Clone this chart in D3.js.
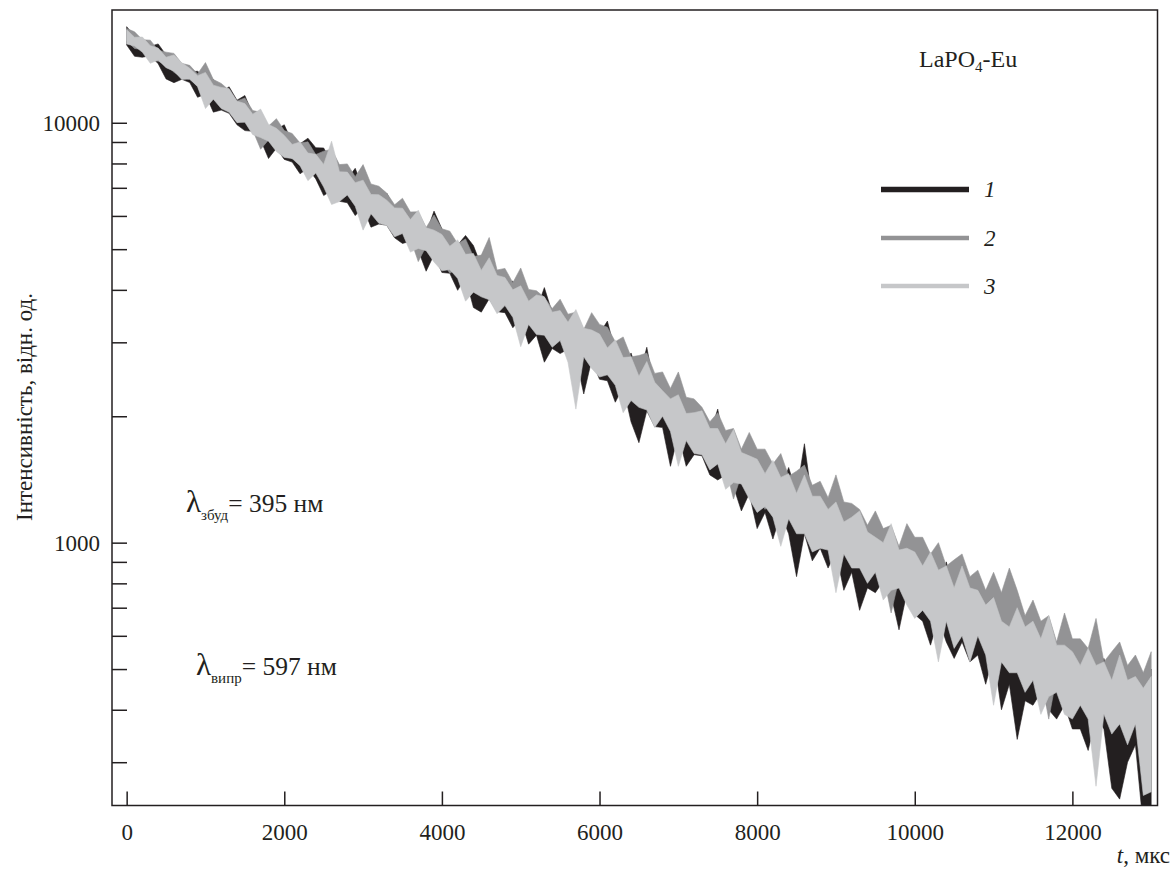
<!DOCTYPE html>
<html>
<head>
<meta charset="utf-8">
<script src="https://cdn.jsdelivr.net/npm/d3@7"></script>
<style>
  html, body { margin: 0; background: #fff; }
  svg { display: block; }
  svg text { font-family: "Liberation Serif", "Times New Roman", "DejaVu Serif", serif !important; }
</style>
</head>
<body>
<svg id="chart" width="1173" height="870"></svg>
<script>
// Luminescence decay of LaPO4-Eu, three measurements.
// Each series is stored as the max/min envelope of the signal in 100 µs bins.
const times = [0,100,200,300,400,500,600,700,800,900,1000,1100,1200,1300,1400,1500,1600,1700,1800,1900,
  2000,2100,2200,2300,2400,2500,2600,2700,2800,2900,3000,3100,3200,3300,3400,3500,3600,3700,3800,3900,
  4000,4100,4200,4300,4400,4500,4600,4700,4800,4900,5000,5100,5200,5300,5400,5500,5600,5700,5800,5900,
  6000,6100,6200,6300,6400,6500,6600,6700,6800,6900,7000,7100,7200,7300,7400,7500,7600,7700,7800,7900,
  8000,8100,8200,8300,8400,8500,8600,8700,8800,8900,9000,9100,9200,9300,9400,9500,9600,9700,9800,9900,
  10000,10100,10200,10300,10400,10500,10600,10700,10800,10900,11000,11100,11200,11300,11400,11500,11600,11700,11800,11900,
  12000,12100,12200,12300,12400,12500,12600,12700,12800,12900,13000];

const s1Upper = [16940,16100,15890,15210,15410,14510,14220,13800,13250,13260,
  12840,12680,11830,12180,11320,11610,10480,10470,9760,9640,
  9890,8980,8910,9190,8720,8710,8070,7790,7350,7790,
  6960,6960,6430,6800,6250,6150,5800,5880,5450,6160,
  5590,5100,5120,5390,5100,4560,4490,4320,4050,4200,
  3880,3910,3580,4050,3530,3500,3310,3380,3110,3140,
  3150,3370,2850,2610,2830,2480,2920,2320,2160,2250,
  2040,2060,1850,2010,1810,2080,1650,1690,1530,1520,
  1600,1440,1460,1340,1510,1310,1720,1250,1160,1240,
  1120,1160,1040,1160,1020,1170,950,990,880,920,
  950,840,860,780,900,760,900,720,660,720,
  650,670,590,680,590,590,550,580,500,520,
  550,490,500,470,530,460,460,450,420,470,500];
const s1Lower = [15320,14400,14320,14460,13820,12720,12460,12690,12470,11500,
  11700,10600,10720,10530,9890,9580,9540,9100,8220,8700,
  8180,8060,7560,7790,7350,6710,6900,6500,6450,6010,
  6290,5640,5740,5700,5320,5160,5220,4970,4430,4850,
  4400,4380,3990,4280,3630,3540,3810,3550,3530,3250,
  3420,2970,3120,2690,2900,2820,2890,2760,2260,2720,
  2450,2430,2160,2350,1940,1730,2060,1890,1880,1520,
  1810,1520,1620,1610,1450,1410,1450,1360,1190,1310,
  1080,1180,1020,1170,1050,830,1050,905,970,870,
  950,770,850,690,780,760,810,750,620,760,
  674,650,570,660,580,530,580,520,540,460,
  540,400,460,340,420,410,440,400,380,410,
  360,360,320,385,360,260,245,300,330,210,220];

const s2Upper = [16780,16470,15770,15730,14890,14730,14630,13850,13700,13070,
  13910,12680,12410,11950,11270,11460,10690,10600,9820,10230,
  9580,9430,8950,9010,8400,8560,8650,7950,7980,7440,
  7950,7150,7060,6800,6380,6610,6130,6140,5630,6030,
  5590,5520,5150,5290,4800,4840,5330,4460,4500,4160,
  4510,4010,3980,3840,3610,3800,3500,3540,3220,3530,
  3310,3260,3010,3090,2770,2790,2830,2530,2550,2330,
  2550,2220,2200,2100,1940,2040,1850,1870,1670,1830,
  1670,1670,1540,1630,1440,1480,1530,1370,1400,1280,
  1450,1250,1240,1200,1100,1190,1080,1100,980,1110,
  1030,1030,940,1000,880,910,940,830,860,770,
  850,760,870,770,670,730,650,670,580,680,
  590,590,560,660,520,550,580,510,540,490,550];
const s2Lower = [15660,15030,14950,14090,14020,13750,13190,12840,12680,12260,
  11090,11510,10890,10650,10010,10150,9600,8650,9100,8650,
  8630,8200,8240,7610,7650,7410,6970,6780,6790,6500,
  5880,6290,5920,5840,5450,5640,5300,4670,5080,4820,
  4700,4380,4500,4000,4120,4070,3790,3680,3710,3530,
  3120,3430,3220,3200,2980,3130,2950,2530,2850,2700,
  2720,2510,2580,2240,2330,2280,2110,2040,2060,1940,
  1680,1860,1730,1710,1560,1650,1510,1270,1450,1350,
  1310,1200,1280,1090,1160,1170,1070,1040,1070,1010,
  860,1000,920,930,840,920,840,680,820,760,
  770,690,760,630,680,680,610,600,620,590,
  470,590,530,530,470,530,480,380,480,440,
  440,410,440,370,400,420,380,370,400,370,310];

const s3Upper = [16650,15990,16000,15260,15060,14320,14510,13900,13480,12950,
  13180,12290,12140,12060,11260,11110,10480,10780,9910,9700,
  9330,8880,9000,8470,8410,7960,9040,7640,7630,7200,
  7300,6750,6740,6540,6270,6260,5880,6190,5620,5550,
  5420,5080,5260,4860,4880,4450,4770,4330,4280,4000,
  4090,3760,3890,3850,3540,3570,3350,3590,3240,3210,
  3140,2910,3040,2760,2770,2490,2700,2410,2300,2200,
  2250,2030,2040,2060,1870,1870,1720,1860,1640,1610,
  1580,1460,1570,1430,1460,1310,1450,1290,1290,1200,
  1250,1120,1150,1190,1060,1030,1000,1110,960,970,
  950,880,950,860,880,780,880,780,770,710,
  740,650,630,700,630,650,590,670,570,570,
  550,510,560,510,520,470,540,470,480,450,480];
const s3Lower = [15410,15230,14720,13860,14100,13530,13270,12680,12710,12190,
  10810,11380,10810,10590,10010,10030,9370,9220,9040,8540,
  8270,8220,7900,7280,7590,7030,6390,6490,6730,6330,
  5550,6070,5760,5690,5350,5450,4920,5020,4960,4660,
  4440,4470,4260,3760,3950,3850,3790,3510,3670,3440,
  2930,3310,3130,3120,2920,3030,2690,2080,2770,2600,
  2480,2510,2370,2040,2180,2100,2070,1880,2000,1840,
  1520,1750,1630,1620,1490,1540,1340,1390,1380,1270,
  1180,1220,1150,980,1140,1050,1050,950,970,960,
  760,940,870,870,800,850,730,770,780,710,
  660,690,650,520,650,560,600,520,600,540,
  410,520,490,490,440,470,390,430,440,390,
  380,410,380,263,390,350,370,330,370,250,255];

const seriesNames = ["1", "2", "3"];
const seriesColors = ["#231f20", "#939395", "#c6c7c9"];
const xTickValues = [0, 2000, 4000, 6000, 8000, 10000, 12000];
const yTickValues = [300, 400, 500, 600, 700, 800, 900, 1000,
  2000, 3000, 4000, 5000, 6000, 7000, 8000, 9000, 10000];
const yLabelled = [1000, 10000];

const series = [
  { name: seriesNames[0], color: seriesColors[0], upper: s1Upper, lower: s1Lower },
  { name: seriesNames[1], color: seriesColors[1], upper: s2Upper, lower: s2Lower },
  { name: seriesNames[2], color: seriesColors[2], upper: s3Upper, lower: s3Lower }
];

const ink = "#231f20";
const serif = "Liberation Serif, Times New Roman, serif";
const frame = { left: 112, right: 1157.5, top: 10, bottom: 805.5 };

const svg = d3.select("#chart");

const x = d3.scaleLinear().domain([-186, 13080]).range([frame.left, frame.right]);
const y = d3.scaleLog().domain([236.6, 18560]).range([frame.bottom, frame.top]);

svg.append("defs").append("clipPath").attr("id", "plot-clip")
  .append("rect")
  .attr("x", frame.left).attr("y", frame.top)
  .attr("width", frame.right - frame.left).attr("height", frame.bottom - frame.top);

// Signal envelopes: measurement 1 at the back, 3 in front
const plotG = svg.append("g").attr("clip-path", "url(#plot-clip)");
series.forEach(s => {
  const area = d3.area()
    .x((d, i) => x(times[i]))
    .y0((d, i) => y(s.lower[i]))
    .y1((d, i) => y(s.upper[i]))
    .curve(d3.curveLinear);
  plotG.append("path")
    .datum(times)
    .attr("d", area)
    .attr("fill", s.color)
    .attr("stroke", s.color)
    .attr("stroke-width", 0.6)
    .attr("stroke-linejoin", "miter");
});

// Axes with inward ticks
const xAxis = d3.axisBottom(x)
  .tickValues(xTickValues)
  .tickSize(-14)
  .tickPadding(18)
  .tickFormat(d3.format("d"));
const gx = svg.append("g").attr("transform", `translate(0,${frame.bottom})`).call(xAxis);

const yAxis = d3.axisLeft(y)
  .tickValues(yTickValues)
  .tickSize(-15)
  .tickPadding(12)
  .tickFormat(d => yLabelled.includes(d) ? d3.format("d")(d) : "");
const gy = svg.append("g").attr("transform", `translate(${frame.left},0)`).call(yAxis);

[gx, gy].forEach(g => {
  g.attr("font-family", serif).attr("font-size", 23);
  g.select(".domain").remove();
  g.selectAll(".tick line").attr("stroke", ink).attr("stroke-width", 1.5);
  g.selectAll(".tick text").attr("fill", ink);
});

// Frame
svg.append("rect")
  .attr("x", frame.left).attr("y", frame.top)
  .attr("width", frame.right - frame.left).attr("height", frame.bottom - frame.top)
  .attr("fill", "none").attr("stroke", ink).attr("stroke-width", 1.5);

// Axis titles
svg.append("text")
  .attr("transform", "translate(32,407) rotate(-90)")
  .attr("text-anchor", "middle")
  .attr("fill", ink)
  .attr("font-size", 23)
  .text("Інтенсивність, відн. од.");

const xt = svg.append("text")
  .attr("x", 1170).attr("y", 863)
  .attr("text-anchor", "end")
  .attr("fill", ink)
  .attr("font-size", 23);
xt.append("tspan").attr("font-style", "italic").text("t");
xt.append("tspan").text(", мкс");

// Sample name
const title = svg.append("text")
  .attr("x", 919).attr("y", 67)
  .attr("fill", ink)
  .attr("font-size", 24);
title.append("tspan").text("LaPO");
title.append("tspan").attr("dy", 5).attr("font-size", 15).text("4");
title.append("tspan").attr("dy", -5).text("-Eu");

// Legend
const legendY = [189.5, 238, 286];
const legendW = [5.5, 4.5, 4.5];
const legend = svg.append("g");
series.forEach((s, i) => {
  legend.append("line")
    .attr("x1", 881).attr("x2", 969)
    .attr("y1", legendY[i]).attr("y2", legendY[i])
    .attr("stroke", s.color).attr("stroke-width", legendW[i]);
  legend.append("text")
    .attr("x", 984).attr("y", legendY[i] + 7.5)
    .attr("fill", ink)
    .attr("font-size", 23).attr("font-style", "italic")
    .text(s.name);
});

// Excitation / emission wavelengths
function lambdaLabel(px, py, sub, rest) {
  const t = svg.append("text")
    .attr("x", px).attr("y", py)
    .attr("fill", ink);
  t.append("tspan").attr("font-size", 31).text("λ");
  t.append("tspan").attr("dy", 8).attr("font-size", 15).text(sub);
  t.append("tspan").attr("dy", -8).attr("font-size", 25.5).text(rest);
}
lambdaLabel(186, 512, "збуд", "= 395 нм");
lambdaLabel(196, 675, "випр", "= 597 нм");
</script>
</body>
</html>
